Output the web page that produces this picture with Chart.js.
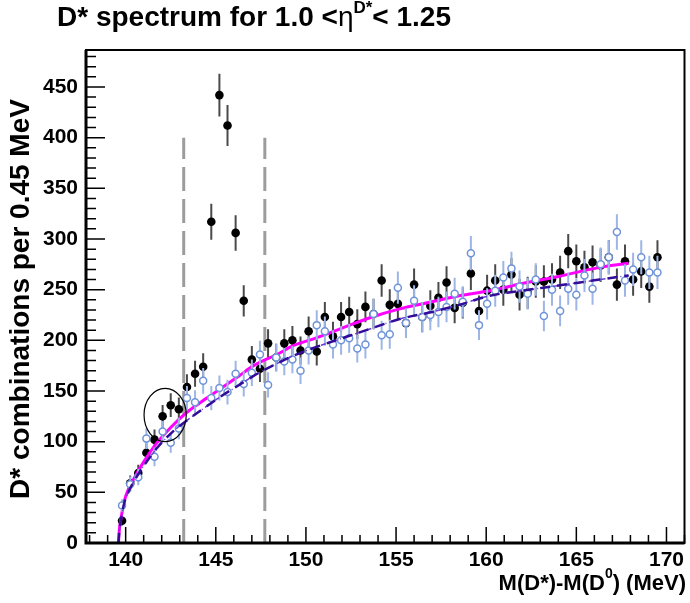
<!DOCTYPE html>
<html>
<head>
<meta charset="utf-8">
<script src="https://cdn.jsdelivr.net/npm/chart.js@4.4.0/dist/chart.umd.min.js"></script>
<style>
  html, body { margin: 0; padding: 0; background: #fff; }
  #wrap { width: 690px; height: 603px; position: relative; }
</style>
</head>
<body>
<div id="wrap"><canvas id="spectrum" width="690" height="603"></canvas></div>
<script>
// bin centres of the mass difference histogram (MeV), 0.45 MeV wide
const binCentres = [
    139.80, 140.25, 140.70, 141.15, 141.60, 142.05, 142.50, 142.95, 143.40, 143.85,
    144.30, 144.75, 145.20, 145.65, 146.10, 146.55, 147.00, 147.45, 147.90, 148.35,
    148.80, 149.25, 149.70, 150.15, 150.60, 151.05, 151.50, 151.95, 152.40, 152.85,
    153.30, 153.75, 154.20, 154.65, 155.10, 155.55, 156.00, 156.45, 156.90, 157.35,
    157.80, 158.25, 158.70, 159.15, 159.60, 160.05, 160.50, 160.95, 161.40, 161.85,
    162.30, 162.75, 163.20, 163.65, 164.10, 164.55, 165.00, 165.45, 165.90, 166.35,
    166.80, 167.25, 167.70, 168.15, 168.60, 169.05, 169.50
];

// right-sign combinations (filled black markers)
const rightSign = [
    22, 59, 69, 89, 102, 125, 136, 132, 154, 167,
    174, 317, 442, 412, 306, 239, 181, 172, 197, 183,
    197, 200, 190, 209, 189, 223, 204, 223, 228, 216,
    233, 226, 259, 235, 236, 217, 255, 223, 234, 242,
    257, 232, 237, 266, 229, 249, 259, 250, 265, 245,
    247, 258, 258, 260, 267, 288, 278, 272, 277, 274,
    282, 255, 278, 260, 268, 253, 282
];

// wrong-sign combinations (open blue markers)
const wrongSign = [
    37, 58, 65, 103, 85, 110, 99, 113, 143, 139,
    160, 143, 153, 149, 167, 157, 168, 186, 156, 183,
    179, 181, 170, 190, 215, 209, 196, 200, 202, 192,
    196, 226, 205, 206, 252, 217, 239, 223, 225, 228,
    233, 246, 238, 286, 215, 236, 249, 262, 271, 253,
    246, 260, 224, 250, 229, 251, 245, 264, 251, 275,
    282, 307, 259, 270, 282, 267, 267
];

// fit curves at these masses
const fitMass = [
    139.60, 139.65, 139.75, 139.90, 140.20, 140.60, 141.00, 141.70, 142.50, 143.40,
    144.50, 145.40, 146.30, 147.10, 148.50, 149.20, 150.50, 152.00, 153.50, 155.20,
    157.00, 158.50, 160.20, 162.00, 164.00, 166.30, 167.90
];
const fitRightSign = [
    0, 13, 25, 40, 55, 68, 80, 98, 114, 129,
    143, 154, 165, 175, 187, 194, 202, 212, 222, 231,
    238, 244, 249, 256, 263, 272, 276
];
const fitWrongSign = [
    0, 12, 24, 38, 52, 65, 76, 93, 108, 121,
    135, 146, 156, 165, 178, 184, 193, 202, 211, 221,
    228, 235, 244, 249, 254, 260, 264
];

// signal window edges (MeV) and how high the markers go
const windowEdges = [143.22, 147.72];
const windowHeight = 400;

const xTickValues = [140, 145, 150, 155, 160, 165, 170];
const yTickValues = [0, 50, 100, 150, 200, 250, 300, 350, 400, 450];

const FONT = '"Liberation Sans", Arial, Helvetica, sans-serif';

document.addEventListener('DOMContentLoaded', function() {
    const pts = values => binCentres.map((m, i) => ({ x: m, y: values[i] }));
    const curve = values => fitMass.map((m, i) => ({ x: m, y: values[i] }));

    // vertical error bars (Poisson), drawn just before the dataset's markers
    const errorBars = {
        id: 'errorBars',
        beforeDatasetDraw(chart, args) {
            const ds = chart.data.datasets[args.index];
            if (!ds.errorColor) return;
            const { ctx, chartArea, scales: { x, y } } = chart;
            ctx.save();
            ctx.beginPath();
            ctx.rect(chartArea.left, chartArea.top, chartArea.width, chartArea.height);
            ctx.clip();
            ctx.strokeStyle = ds.errorColor;
            ctx.lineWidth = 2;
            ds.data.forEach(p => {
                const err = Math.sqrt(p.y);
                const px = x.getPixelForValue(p.x);
                ctx.beginPath();
                ctx.moveTo(px, y.getPixelForValue(p.y - err));
                ctx.lineTo(px, y.getPixelForValue(p.y + err));
                ctx.stroke();
            });
            ctx.restore();
        }
    };

    // ROOT style frame with inward ticks, the circled excess and the texts
    const decorations = {
        id: 'decorations',
        afterDatasetsDraw(chart) {
            const { ctx, chartArea: a, scales: { x, y } } = chart;
            ctx.save();

            // ellipse round the small excess below the window
            const cx = x.getPixelForValue(142.19), cy = y.getPixelForValue(126.3);
            const rx = x.getPixelForValue(142.19 + 1.17) - cx;
            const ry = cy - y.getPixelForValue(126.3 + 26.3);
            ctx.strokeStyle = '#000';
            ctx.lineWidth = 1.2;
            ctx.beginPath();
            ctx.ellipse(cx, cy, rx, ry, 0, 0, Math.PI * 2);
            ctx.stroke();

            // frame
            ctx.lineWidth = 2;
            ctx.strokeRect(a.left, a.top, a.width, a.height);
            ctx.lineWidth = 3;
            ctx.beginPath();
            ctx.moveTo(a.left, a.top);
            ctx.lineTo(a.left, a.bottom);
            ctx.lineTo(a.right, a.bottom);
            ctx.stroke();

            // ticks pointing into the frame
            ctx.lineWidth = 1.5;
            ctx.beginPath();
            for (let v = 0; v <= 480; v += 10) {
                const py = y.getPixelForValue(v);
                const len = v % 50 === 0 ? 19 : 10;
                ctx.moveTo(a.left, py);
                ctx.lineTo(a.left + len, py);
            }
            for (let v = 138; v <= 171; v += 1) {
                const px = x.getPixelForValue(v);
                const len = v % 5 === 0 ? 16 : 8;
                ctx.moveTo(px, a.bottom);
                ctx.lineTo(px, a.bottom - len);
            }
            ctx.stroke();
            ctx.restore();
        },
        afterDraw(chart) {
            const ctx = chart.ctx;
            ctx.save();
            ctx.fillStyle = '#000';
            ctx.textBaseline = 'alphabetic';

            // title with superscript
            let tx = 57;
            ctx.font = 'bold 28px ' + FONT;
            ctx.fillText('D* spectrum for 1.0 <', tx, 26);
            tx += ctx.measureText('D* spectrum for 1.0 <').width;
            ctx.font = '28px ' + FONT;
            ctx.fillText('\u03b7', tx, 26);
            tx += ctx.measureText('\u03b7').width;
            ctx.font = 'bold 17px ' + FONT;
            ctx.fillText('D*', tx, 13);
            tx += ctx.measureText('D*').width;
            ctx.font = 'bold 28px ' + FONT;
            ctx.fillText('< 1.25', tx, 26);

            // x axis title, right aligned at the frame end
            const xt1 = 'M(D*)-M(D', sup = '0', xt2 = ') (MeV)';
            ctx.font = 'bold 22px ' + FONT;
            const w1 = ctx.measureText(xt1).width, w2 = ctx.measureText(xt2).width;
            ctx.font = 'bold 14px ' + FONT;
            const ws = ctx.measureText(sup).width;
            let sx = 686 - (w1 + ws + w2);
            ctx.font = 'bold 22px ' + FONT;
            ctx.fillText(xt1, sx, 590);
            ctx.font = 'bold 14px ' + FONT;
            ctx.fillText(sup, sx + w1, 578);
            ctx.font = 'bold 22px ' + FONT;
            ctx.fillText(xt2, sx + w1 + ws, 590);

            // y axis title
            ctx.translate(29, 299);
            ctx.rotate(-Math.PI / 2);
            ctx.textAlign = 'center';
            ctx.font = 'bold 28px ' + FONT;
            ctx.fillText('D* combinations per 0.45 MeV', 0, 0);
            ctx.restore();
        }
    };

    const verticalMarker = m => ({
        data: [{ x: m, y: 0 }, { x: m, y: windowHeight }],
        showLine: true,
        pointRadius: 0,
        borderColor: '#9c9c9c',
        borderWidth: 3,
        borderDash: [24, 8],
        order: 10
    });

    new Chart(document.getElementById('spectrum'), {
        type: 'scatter',
        data: {
            datasets: [
                verticalMarker(windowEdges[0]),
                verticalMarker(windowEdges[1]),
                {
                    data: pts(rightSign),
                    pointRadius: 4.3,
                    pointBackgroundColor: '#000',
                    pointBorderColor: '#000',
                    pointBorderWidth: 0,
                    errorColor: '#4a4a4a',
                    order: 6
                },
                {
                    data: curve(fitRightSign),
                    showLine: true,
                    pointRadius: 0,
                    borderColor: '#ff00ff',
                    borderWidth: 3,
                    cubicInterpolationMode: 'monotone',
                    order: 5
                },
                {
                    data: pts(wrongSign),
                    pointRadius: 3.5,
                    pointBackgroundColor: '#fff',
                    pointBorderColor: '#6f94d9',
                    pointBorderWidth: 1.5,
                    errorColor: '#9db6e6',
                    order: 4
                },
                {
                    data: curve(fitWrongSign),
                    showLine: true,
                    pointRadius: 0,
                    borderColor: '#6a3fd1',
                    borderWidth: 1.5,
                    borderDash: [5, 3, 1, 3],
                    cubicInterpolationMode: 'monotone',
                    order: 3
                },
                {
                    data: curve(fitWrongSign),
                    showLine: true,
                    pointRadius: 0,
                    borderColor: '#330d99',
                    borderWidth: 2.5,
                    borderDash: [10, 7],
                    cubicInterpolationMode: 'monotone',
                    order: 2
                }
            ]
        },
        options: {
            responsive: false,
            animation: false,
            devicePixelRatio: 1,
            layout: { padding: { top: 50, right: 2, left: 0, bottom: 0 } },
            plugins: {
                legend: { display: false },
                tooltip: { enabled: false },
                title: { display: false }
            },
            scales: {
                x: {
                    type: 'linear',
                    min: 137.8,
                    max: 171.0,
                    afterBuildTicks: scale => { scale.ticks = xTickValues.map(v => ({ value: v })); },
                    afterFit: scale => { scale.height = 60; },
                    grid: { display: false, drawTicks: false },
                    border: { display: false },
                    ticks: {
                        padding: 5,
                        color: '#000',
                        maxRotation: 0,
                        font: { family: FONT, size: 21, weight: 'bold' },
                        callback: v => String(v)
                    }
                },
                y: {
                    type: 'linear',
                    min: 0,
                    max: 486.5,
                    afterBuildTicks: scale => { scale.ticks = yTickValues.map(v => ({ value: v })); },
                    afterFit: scale => { scale.width = 86; },
                    grid: { display: false, drawTicks: false },
                    border: { display: false },
                    ticks: {
                        padding: 8,
                        color: '#000',
                        font: { family: FONT, size: 21, weight: 'bold' },
                        callback: v => String(v)
                    }
                }
            }
        },
        plugins: [errorBars, decorations]
    });
});
</script>
</body>
</html>
